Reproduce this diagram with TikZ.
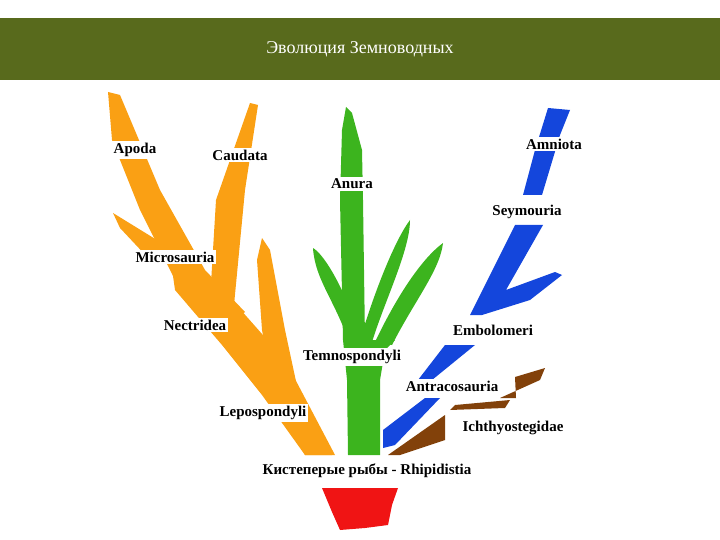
\documentclass[tikz,border=0pt]{standalone}
\usepackage{fontspec}
\setmainfont{Liberation Serif}
\definecolor{hdr}{RGB}{88,106,28}
\definecolor{org}{RGB}{250,160,20}
\definecolor{grn}{RGB}{60,180,30}
\definecolor{blu}{RGB}{20,70,220}
\definecolor{brn}{RGB}{130,65,10}
\definecolor{rd}{RGB}{240,20,20}
\tikzset{lbl/.style={fill=white,inner sep=2pt,font=\bfseries\fontsize{15}{17}\selectfont}}
\begin{document}
\begin{tikzpicture}[x=1pt,y=-1pt]
\useasboundingbox (0,0) rectangle (720,540);
\fill[hdr] (0,18) rectangle (720,80);
\node[text=white,font=\fontsize{18}{20}\selectfont] (title) at (360,49) {Эволюция Земноводных};
% red base
\fill[rd] (322,488) -- (398,488) -- (392,505) -- (388,525) -- (365,528) -- (340,530) -- (332,512) -- cycle;
% orange
\fill[org] (108,92) -- (120,95) -- (160,190) -- (205,270) -- (245,312) -- (225,330) -- (180,290) -- (140,210) -- (112,140) -- cycle;
\fill[org] (170,255) -- (232,300) -- (285,360) -- (335,455) -- (305,455) -- (262,395) -- (222,345) -- (175,290) -- cycle;
\fill[org] (250,103) -- (258,105) -- (245,190) -- (234,305) -- (210,300) -- (216,200) -- cycle;
\fill[org] (113,213) -- (165,245) -- (150,260) -- (120,228) -- cycle;
\fill[org] (262,238) -- (270,250) -- (285,330) -- (300,400) -- (332,455) -- (305,455) -- (275,400) -- (262,330) -- (257,260) -- cycle;
% green
\fill[grn] (348,455) -- (380,455) -- (380,380) -- (385,350) -- (395,340) -- (365,340) -- (363,200) -- (362,150) -- (352,113) -- (346,107) -- (342,130) -- (340,200) -- (343,340) -- (347,380) -- cycle;
\fill[grn] (350,345) .. controls (335,300) and (315,280) .. (313,248) .. controls (325,255) and (345,290) .. (362,340) -- cycle;
\fill[grn] (360,340) .. controls (375,290) and (395,240) .. (410,220) .. controls (410,250) and (385,300) .. (372,342) -- cycle;
\fill[grn] (375,342) .. controls (395,300) and (420,260) .. (443,243) .. controls (440,270) and (415,300) .. (392,345) -- cycle;
% blue
\fill[blu] (548,108) -- (570,110) -- (560,135) -- (542,195) -- (523,195) -- (535,150) -- cycle;
\fill[blu] (515,225) -- (543,225) -- (506,290) -- (555,272) -- (562,275) -- (530,300) -- (482,315) -- (470,315) -- cycle;
\fill[blu] (445,345) -- (475,345) -- (432,380) -- (418,380) -- cycle;
\fill[blu] (425,398) -- (440,398) -- (395,445) -- (383,448) -- (383,430) -- cycle;
% brown
\fill[brn] (515,377) -- (545,368) -- (540,380) -- (500,398) -- (516,398) -- cycle;
\fill[brn] (455,405) -- (510,400) -- (505,408) -- (450,410) -- cycle;
\fill[brn] (388,455) -- (445,415) -- (445,440) -- (400,455) -- cycle;
% labels
\node[lbl] (apoda) at (135,150) {Apoda};
\node[lbl] (caudata) at (240,155) {Caudata};
\node[lbl] (anura) at (352,184) {Anura};
\node[lbl] (amniota) at (554,144) {Amniota};
\node[lbl] (seym) at (527,212) {Seymouria};
\node[lbl] (micro) at (175,257) {Microsauria};
\node[lbl] (nectr) at (195,325) {Nectridea};
\node[lbl] (embol) at (493,330) {Embolomeri};
\node[lbl] (temno) at (352,357) {Temnospondyli};
\node[lbl] (antra) at (452,386) {Antracosauria};
\node[lbl] (lepo) at (263,413) {Lepospondyli};
\node[lbl] (ichth) at (513,428) {Ichthyostegidae};
\node[lbl] (rhip) at (367,471) {Кистеперые рыбы - Rhipidistia};
\end{tikzpicture}
\end{document}
